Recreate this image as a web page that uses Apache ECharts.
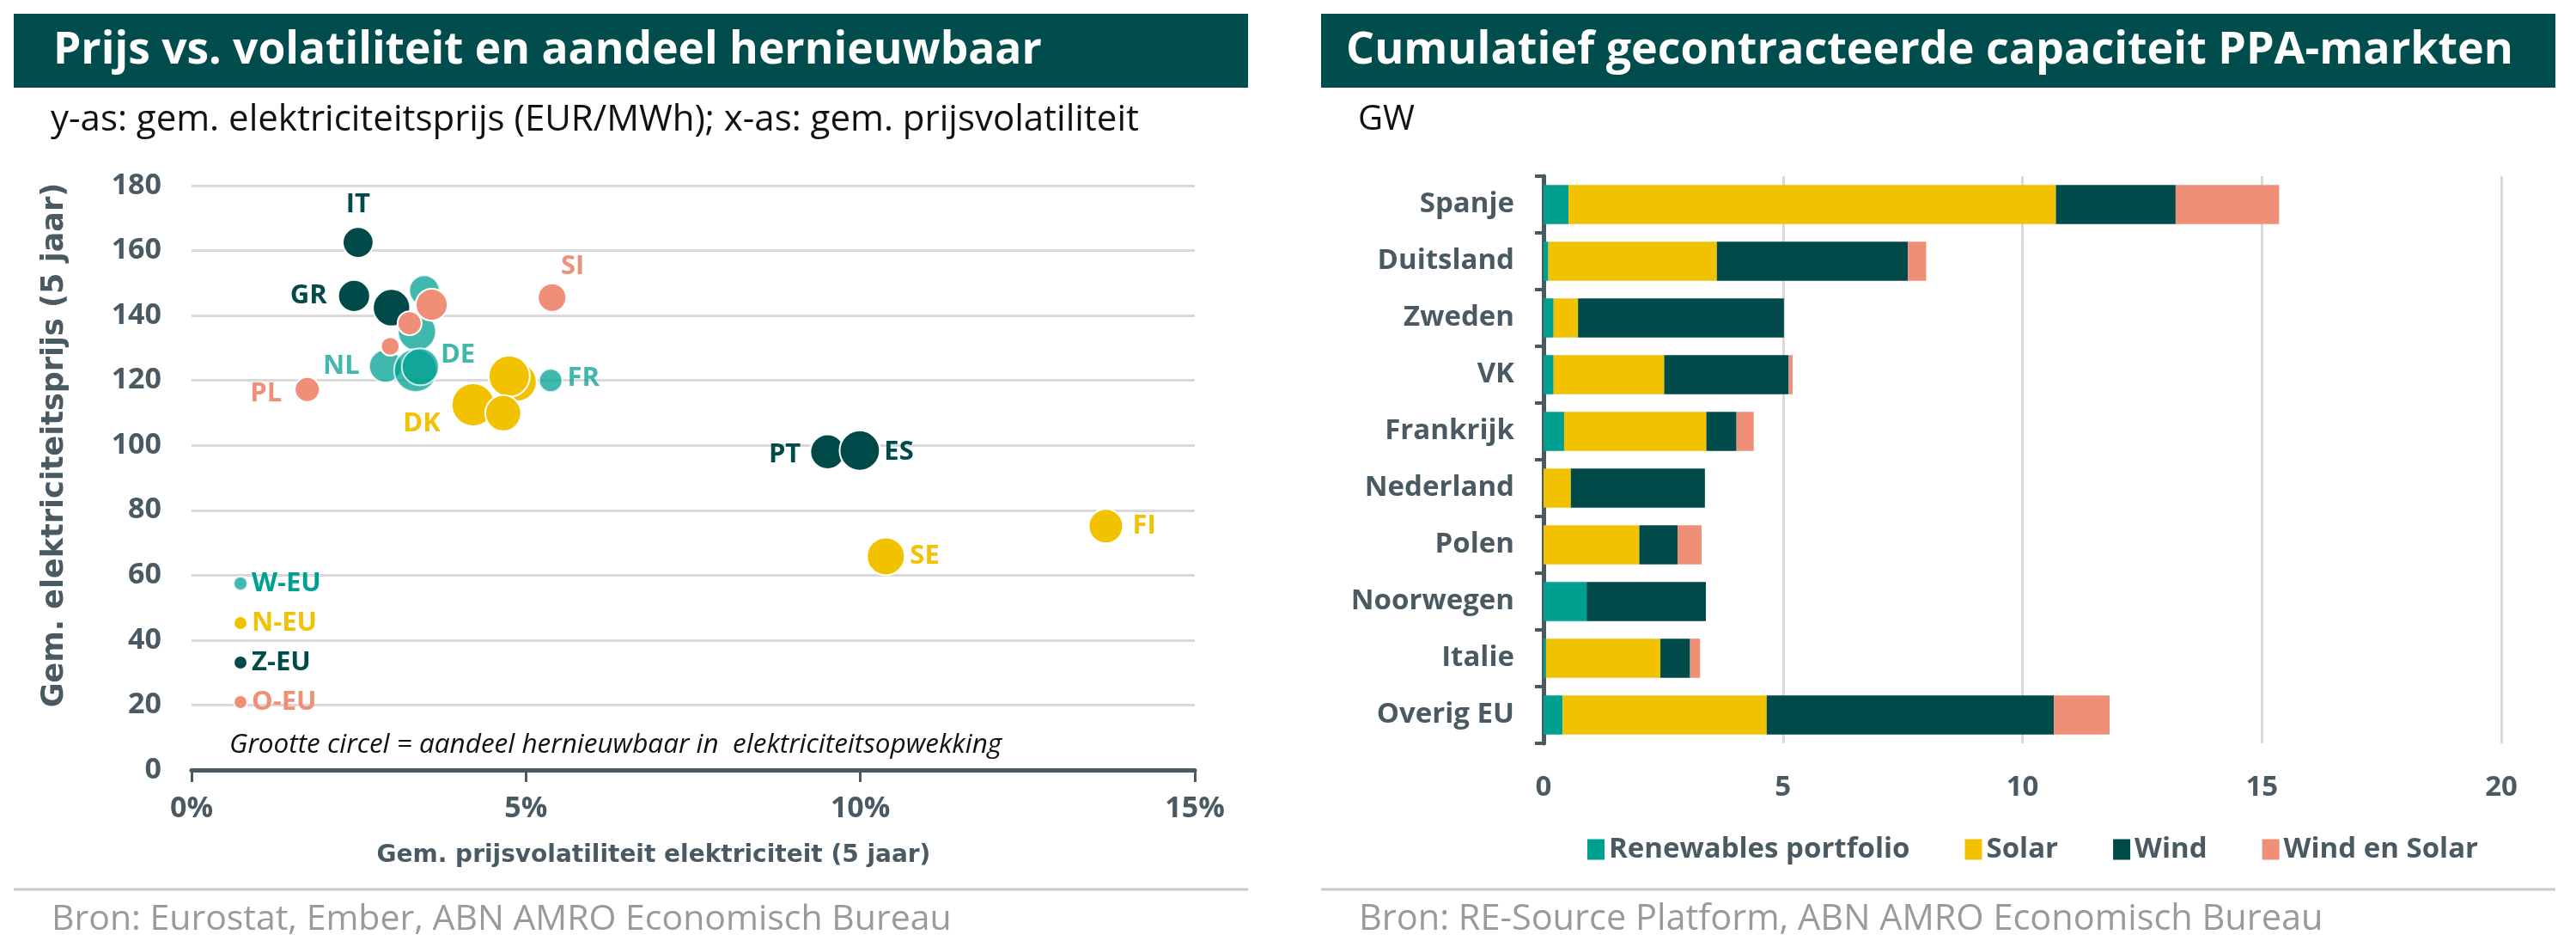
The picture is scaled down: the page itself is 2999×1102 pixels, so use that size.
<!DOCTYPE html>
<html>
<head>
<meta charset="utf-8">
<script src="https://cdn.jsdelivr.net/npm/echarts@6/dist/echarts.min.js"></script>
<style>
  html, body { margin: 0; padding: 0; background: #fff; }
  #chart { width: 2999px; height: 1102px; }
</style>
</head>
<body>
<div id="chart"></div>
<script>
// ---- links: prijs vs volatiliteit (x = volatiliteit %, y = EUR/MWh, share = % hernieuwbaar)
const wX = [2.90, 3.48, 3.37, 3.35, 3.42, 5.37];
const wY = [124.4, 147.7, 135.0, 123.1, 124.2, 120.0];
const wShare = [46, 39, 62, 80, 59, 23];
const wLabel = ['NL', '', '', 'DE', '', 'FR'];

const nX = [4.87, 4.75, 4.21, 4.66, 10.38, 13.67];
const nY = [119.5, 121.3, 112.5, 109.9, 65.8, 75.1];
const nShare = [65, 73, 80, 56, 62, 51];
const nLabel = ['', '', 'DK', '', 'SE', 'FI'];

const zX = [2.49, 2.43, 2.99, 9.51, 9.99];
const zY = [162.5, 146.0, 142.4, 98.0, 98.4];
const zShare = [41, 44, 60, 52, 70];
const zLabel = ['IT', 'GR', '', 'PT', 'ES'];

const oX = [1.73, 2.97, 3.26, 3.59, 5.39];
const oY = [117.2, 130.5, 137.6, 143.3, 145.5];
const oShare = [27, 15, 25, 44, 35];
const oLabel = ['PL', '', '', '', 'SI'];

// ---- rechts: PPA-capaciteit (GW)
const categories = ['Spanje', 'Duitsland', 'Zweden', 'VK', 'Frankrijk', 'Nederland', 'Polen', 'Noorwegen', 'Italie', 'Overig EU'];
const portfolio = [0.52, 0.10, 0.21, 0.21, 0.43, 0, 0, 0.90, 0.05, 0.40];
const solar = [10.18, 3.52, 0.51, 2.31, 2.97, 0.57, 2.00, 0, 2.39, 4.26];
const wind = [2.50, 3.99, 4.30, 2.60, 0.63, 2.80, 0.80, 2.49, 0.62, 6.00];
const windSolar = [2.16, 0.38, 0, 0.08, 0.36, 0, 0.50, 0, 0.21, 1.16];

const TEAL = '#00a091', YELLOW = '#f2c100', DARK = '#004b4a', SALMON = '#f08f78';
const SLATE = '#4a5a63';
const FONT = 'Open Sans';

// label placement per land: [positie, afstand, offset]
const labelPos = {
  IT: ['top', 10, [0, 0]], GR: ['left', 12, [0, 0]], DE: ['right', 3, [0, -18]],
  NL: ['left', 10, [0, 0]], FR: ['right', 5, [0, -2]], PL: ['left', 14, [0, 5]],
  DK: ['left', 12, [0, 22]], SI: ['top', 3, [24, 0]], PT: ['left', 10, [0, 3]],
  ES: ['right', 4, [0, 2]], SE: ['right', 5, [0, 0]], FI: ['right', 10, [0, 0]]
};

function scatterData(xs, ys, share, labels) {
  return xs.map((x, i) => {
    const item = { value: [x, ys[i], share[i]], name: labels[i] };
    const lp = labelPos[labels[i]];
    if (lp) {
      item.label = { show: true, formatter: labels[i], position: lp[0], distance: lp[1], offset: lp[2] };
    }
    return item;
  });
}

function scatterSeries(name, color, data, opacity) {
  return {
    name: name,
    type: 'scatter',
    xAxisIndex: 0,
    yAxisIndex: 0,
    data: data,
    symbolSize: v => 5.6 * Math.sqrt(v[2]),
    itemStyle: { color: color, opacity: opacity, borderColor: '#fff', borderWidth: 2 },
    label: { show: false, color: color, fontFamily: FONT, fontWeight: 'bold', fontSize: 31 },
    emphasis: { disabled: true }
  };
}

function barSeries(name, color, data) {
  return {
    name: name,
    type: 'bar',
    stack: 'ppa',
    xAxisIndex: 1,
    yAxisIndex: 1,
    data: data,
    barCategoryGap: '31%',
    itemStyle: { color: color },
    emphasis: { disabled: true }
  };
}

const chart = echarts.init(document.getElementById('chart'));

chart.setOption({
  animation: false,
  backgroundColor: '#fff',
  textStyle: { fontFamily: FONT },
  grid: [
    { left: 223, right: 1608, top: 216, bottom: 206 },
    { left: 1797, right: 87, top: 205, bottom: 237 }
  ],
  xAxis: [
    {
      gridIndex: 0, type: 'value', min: 0, max: 15, interval: 5,
      name: 'Gem. prijsvolatiliteit elektriciteit (5 jaar)',
      nameLocation: 'middle', nameGap: 86,
      nameTextStyle: { color: SLATE, fontWeight: 'bold', fontSize: 28, fontFamily: 'DejaVu Sans', padding: [0, 92, 0, 0] },
      axisLine: { show: true, lineStyle: { color: SLATE, width: 5 } },
      axisTick: { show: true, length: 14, lineStyle: { color: SLATE, width: 3 } },
      axisLabel: { formatter: '{value}%', color: SLATE, fontWeight: 'bold', fontSize: 34, margin: 28 },
      splitLine: { show: false }
    },
    {
      gridIndex: 1, type: 'value', min: 0, max: 20, interval: 5,
      axisLine: { show: false },
      axisTick: { show: false },
      axisLabel: { color: SLATE, fontWeight: 'bold', fontSize: 33, margin: 35 },
      splitLine: { show: true, lineStyle: { color: '#d9d9d9', width: 3 } }
    }
  ],
  yAxis: [
    {
      gridIndex: 0, type: 'value', min: 0, max: 180, interval: 20,
      name: 'Gem. elektriciteitsprijs (5 jaar)',
      nameLocation: 'middle', nameGap: 142,
      nameTextStyle: { color: SLATE, fontWeight: 'bold', fontSize: 35, fontFamily: 'DejaVu Sans', padding: [0, 0, 0, 76] },
      axisLine: { show: false },
      axisTick: { show: false },
      axisLabel: { color: SLATE, fontWeight: 'bold', fontSize: 34, margin: 35 },
      splitLine: { show: true, lineStyle: { color: '#d9d9d9', width: 3 } }
    },
    {
      gridIndex: 1, type: 'category', data: categories, inverse: true,
      axisLine: { show: true, lineStyle: { color: SLATE, width: 5 } },
      axisTick: { show: true, length: 10, lineStyle: { color: SLATE, width: 4 } },
      axisLabel: { color: SLATE, fontWeight: 'bold', fontSize: 33, margin: 34 },
      splitLine: { show: false }
    }
  ],
  legend: [
    {
      orient: 'vertical', left: 266, top: 658,
      icon: 'circle', itemWidth: 16, itemHeight: 16, itemGap: 14,
      selectedMode: false,
      textStyle: { fontWeight: 'bold', fontSize: 31, fontFamily: FONT, lineHeight: 32 },
      data: [
        { name: 'W-EU', textStyle: { color: TEAL } },
        { name: 'N-EU', textStyle: { color: YELLOW } },
        { name: 'Z-EU', textStyle: { color: DARK } },
        { name: 'O-EU', textStyle: { color: SALMON } }
      ]
    },
    {
      orient: 'horizontal', left: 1843, top: 967,
      icon: 'rect', itemWidth: 20, itemHeight: 24, itemGap: 64,
      selectedMode: false,
      textStyle: { color: SLATE, fontWeight: 'bold', fontSize: 33, fontFamily: FONT },
      data: ['Renewables portfolio', 'Solar', 'Wind', 'Wind en Solar']
    }
  ],
  graphic: [
    { type: 'rect', shape: { x: 16, y: 16, width: 1437, height: 86 }, style: { fill: '#014d4e' } },
    { type: 'text', x: 62, y: 59, style: { text: 'Prijs vs. volatiliteit en aandeel hernieuwbaar', fill: '#fff', font: 'bold 51.5px "Open Sans"', textVerticalAlign: 'middle' } },
    { type: 'text', x: 59, y: 140, style: { text: 'y-as: gem. elektriciteitsprijs (EUR/MWh); x-as: gem. prijsvolatiliteit', fill: '#111', font: '42px "Open Sans"', textVerticalAlign: 'middle' } },
    { type: 'text', x: 267, y: 867, style: { text: 'Grootte circel = aandeel hernieuwbaar in  elektriciteitsopwekking', fill: '#111', font: 'italic 31.5px "Open Sans"', textVerticalAlign: 'middle' } },
    { type: 'line', shape: { x1: 16, y1: 1035, x2: 1453, y2: 1035 }, style: { stroke: '#c8c8c8', lineWidth: 3 } },
    { type: 'text', x: 60, y: 1070, style: { text: 'Bron: Eurostat, Ember, ABN AMRO Economisch Bureau', fill: '#9a9a9a', font: '41px "Open Sans"', textVerticalAlign: 'middle' } },

    { type: 'rect', shape: { x: 1538, y: 16, width: 1437, height: 86 }, style: { fill: '#014d4e' } },
    { type: 'text', x: 1567, y: 59, style: { text: 'Cumulatief gecontracteerde capaciteit PPA-markten', fill: '#fff', font: 'bold 52px "Open Sans"', textVerticalAlign: 'middle' } },
    { type: 'text', x: 1581, y: 140, style: { text: 'GW', fill: '#111', font: '40px "Open Sans"', textVerticalAlign: 'middle' } },
    { type: 'line', shape: { x1: 1538, y1: 1035, x2: 2975, y2: 1035 }, style: { stroke: '#c8c8c8', lineWidth: 3 } },
    { type: 'text', x: 1582, y: 1070, style: { text: 'Bron: RE-Source Platform, ABN AMRO Economisch Bureau', fill: '#9a9a9a', font: '41.5px "Open Sans"', textVerticalAlign: 'middle' } }
  ],
  series: [
    scatterSeries('W-EU', TEAL, scatterData(wX, wY, wShare, wLabel), 0.75),
    scatterSeries('N-EU', YELLOW, scatterData(nX, nY, nShare, nLabel), 1),
    scatterSeries('Z-EU', DARK, scatterData(zX, zY, zShare, zLabel), 1),
    scatterSeries('O-EU', SALMON, scatterData(oX, oY, oShare, oLabel), 1),
    barSeries('Renewables portfolio', TEAL, portfolio),
    barSeries('Solar', YELLOW, solar),
    barSeries('Wind', DARK, wind),
    barSeries('Wind en Solar', SALMON, windSolar)
  ]
});
</script>
</body>
</html>
